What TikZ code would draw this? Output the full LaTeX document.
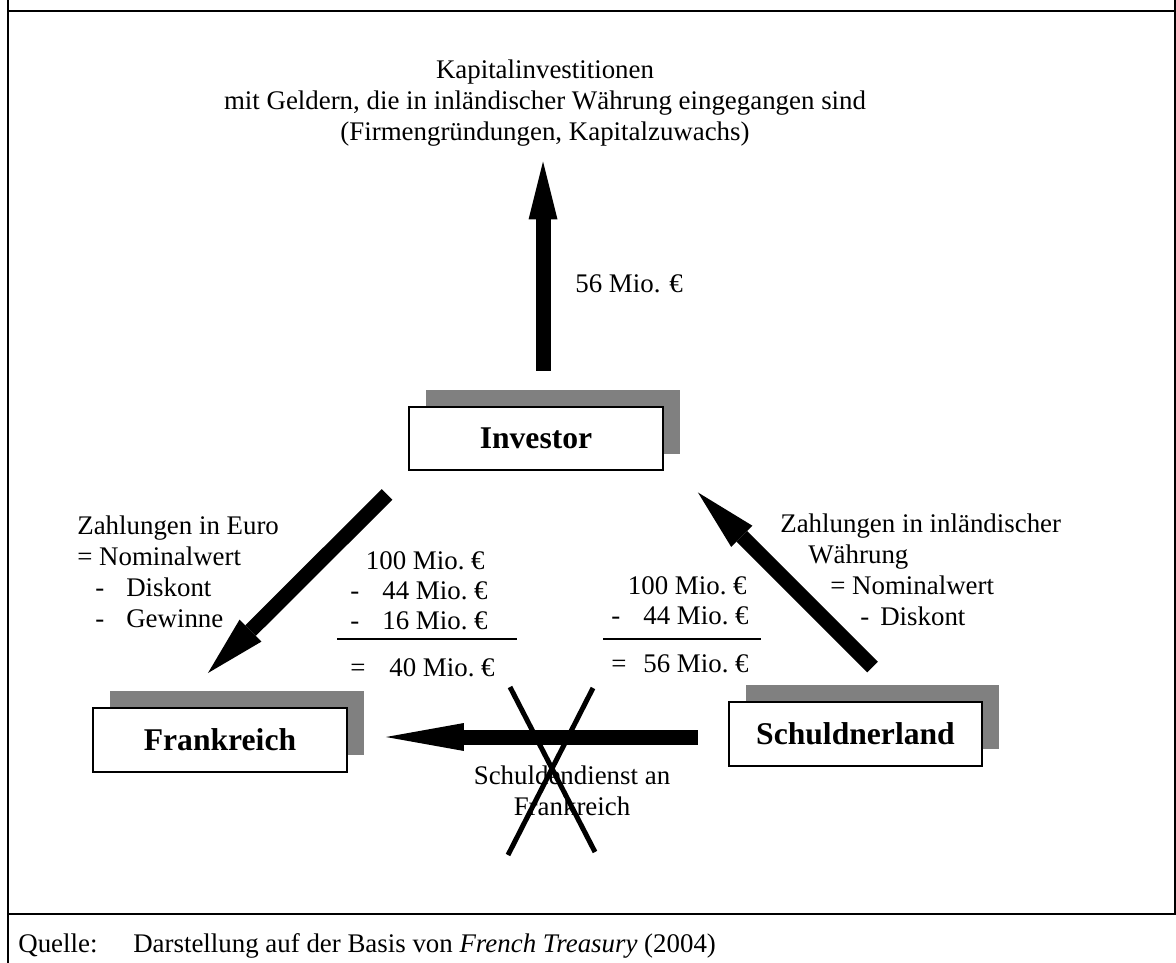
\documentclass[tikz,border=0pt]{standalone}
\usepackage{fontspec}
\setmainfont{Liberation Serif}
\usetikzlibrary{arrows.meta,shadows}

\tikzset{
  txt/.style={font=\fontsize{15.3}{17.5}\selectfont, inner sep=0pt},
  land/.style={draw, line width=0.04cm, fill=white, minimum width=5.08cm, minimum height=1.28cm,
    inner sep=0pt, font=\fontsize{18}{20}\selectfont\bfseries,
    drop shadow={shadow xshift=0.34cm, shadow yshift=0.34cm, fill=black!50, opacity=1}},
  flow/.style={line width=0.3cm, -{Triangle[length=1.16cm, width=0.58cm, line width=0pt]}},
  frame/.style={line width=0.045cm},
}

\begin{document}
\begin{tikzpicture}[x=0.02cm, y=-0.02cm]
    \useasboundingbox (0,0) rectangle (1176,963);
    % Rahmen
    \draw[frame] (8,0) -- (8,963);
    \draw[frame] (1175,0) -- (1175,914);
    \draw[frame] (8,11) -- (1176,11);
    \draw[frame] (8,914) -- (1176,914);

    % Kaesten
    \node[land] at (536,438.5) (inv) {Investor};
    \node[land] at (220,740) (fr) {Frankreich};
    \node[land] at (855.5,734) (sl) {Schuldnerland};

    \node[txt, align=center, anchor=base] at (545,140) (ziel) {Kapitalinvestitionen\\mit Geldern, die in inländischer Währung eingegangen sind\\(Firmengründungen, Kapitalzuwachs)};

    % Pfeile
    \draw[flow] ([shift={(7,-35)}]inv.north) -- ([shift={(7,-244)}]inv.north);
    \draw[flow, -{Triangle[length=1.2cm, width=0.62cm, line width=0pt]}] ([shift={(-21,23)}]inv.south west) -- ([shift={(-140,-34)}]fr.north east);
    \draw[flow, -{Triangle[length=1.24cm, width=0.6cm, line width=0pt]}] ([shift={(145,-34)}]sl.north west) -- ([shift={(34,21)}]inv.south east);
    \draw[flow, -{Triangle[length=1.56cm, width=0.56cm, line width=0pt]}] ([shift={(-30,3)}]sl.west) -- ([shift={(38,-3)}]fr.east);

    \node[txt, anchor=base west] at (575,292) (betrag) {56 Mio. €};

    \node[txt, align=left, anchor=base west] at (77,627) (links) {Zahlungen in Euro\\= Nominalwert\\\hspace*{0.36cm}-\hspace*{0.44cm}Diskont\\\hspace*{0.36cm}-\hspace*{0.44cm}Gewinne};
    \node[txt, align=left, anchor=base west] at (780,625) (rechts) {Zahlungen in inländischer\\\hspace*{0.56cm}Währung\\\hspace*{1cm}= Nominalwert\\\hspace*{1.6cm}-\hspace*{0.22cm}Diskont};

    % Rechnungen
    \foreach \y/\v/\xe in {569/100/485, 599/44/488, 629/16/488, 676/40/495}
        \node[txt, anchor=base east] at (\xe,\y) (l\v) {\v~Mio.~€};
    \foreach \y/\s/\n in {599/-/a, 629/-/b, 676/=/c}
        \node[txt, anchor=base west] at (350,\y) (ls\n) {\s};
    \foreach \y/\v/\xe in {594/100/747, 624/44/749, 672/56/749}
        \node[txt, anchor=base east] at (\xe,\y) (r\v) {\v~Mio.~€};
    \foreach \y/\s/\n in {624/-/a, 672/=/c}
        \node[txt, anchor=base west] at (611,\y) (rs\n) {\s};
    \draw[line width=0.03cm] (337,639) -- (517,639);
    \draw[line width=0.03cm] (603,639) -- (761,639);

    \node[txt, align=center, anchor=base] at (572,815) (dienst) {Schuldendienst an\\Frankreich};
    \draw[line width=0.1cm] (510,687) -- (595,852);
    \draw[line width=0.1cm] (593,688) -- (508,855);

    \node[txt, anchor=base west] at (18,952) (quelle) {\makebox[2.3cm][l]{Quelle:}Darstellung auf der Basis von \textit{French Treasury} (2004)};
\end{tikzpicture}
\end{document}
